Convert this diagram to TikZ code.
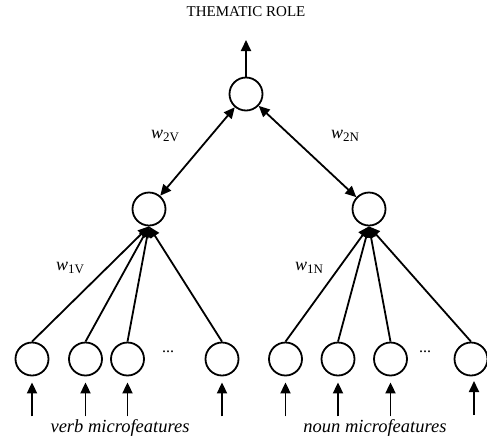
\documentclass[tikz,border=0pt]{standalone}
\usepackage{fontspec}
\setmainfont{Liberation Serif}
\usetikzlibrary{arrows.meta}
\begin{document}
\begin{tikzpicture}[x=1pt,y=-1pt,
  unit/.style={circle,draw,line width=1.8pt,minimum size=33pt,inner sep=0pt},
  conn/.style={line width=1.8pt},
  tip/.style={-{Triangle[length=11pt,width=10pt]}},
  btip/.style={{Triangle[length=11pt,width=10pt]}-{Triangle[length=11pt,width=10pt]}},
  wlab/.style={font=\fontsize{18}{18}\selectfont},
  flab/.style={font=\fontsize{18.5}{18.5}\selectfont\itshape}]
\useasboundingbox (0,0) rectangle (487,440);
\node[font=\fontsize{15}{15}\selectfont] (title) at (246,12) {THEMATIC ROLE};
\node[unit] (top) at (246,94) {};
\node[unit] (mv) at (149,209) {};
\node[unit] (mn) at (369,209) {};
\foreach \n/\x in {v1/32,v2/85.5,v3/127.5,v4/222,n1/285.5,n2/338,n3/390.5,n4/471}
  \node[unit] (\n) at (\x,359) {};
\node[font=\fontsize{16}{16}\selectfont] (dv) at (168,352) {...};
\node[font=\fontsize{16}{16}\selectfont] (dn) at (425,352) {...};
\coordinate (out) at (246,40);
\draw[conn,tip] (top) -- (out);
\draw[conn,btip] (mv) -- (top);
\draw[conn,btip] (mn) -- (top);
\foreach \n in {v1,v2,v3,v4} \draw[conn,tip] (\n.north) -- (mv.south);
\foreach \n in {n1,n2,n3,n4} \draw[conn,tip] (\n.north) -- (mn.south);
\foreach \n in {v1,v2,v3,v4,n1,n2,n3} {
  \coordinate (s\n) at ([yshift=-40pt]\n.south);
  \draw[conn,tip] (s\n) -- ([yshift=-6pt]\n.south);
}
\coordinate (sn4) at (474,415);
\coordinate (en4) at (474,381);
\draw[conn,tip] (sn4) -- (en4);
\node[wlab] (w2v) at (165,136) {\textit{w}\raisebox{-0.35ex}{\fontsize{13}{13}\selectfont 2V}};
\node[wlab] (w2n) at (345,136) {\textit{w}\raisebox{-0.35ex}{\fontsize{13}{13}\selectfont 2N}};
\node[wlab] (w1v) at (70,268) {\textit{w}\raisebox{-0.35ex}{\fontsize{13}{13}\selectfont 1V}};
\node[wlab] (w1n) at (309,268) {\textit{w}\raisebox{-0.35ex}{\fontsize{13}{13}\selectfont 1N}};
\node[flab] (fv) at (120,428) {verb microfeatures};
\node[flab] (fn) at (375,428) {noun microfeatures};
\end{tikzpicture}
\end{document}
